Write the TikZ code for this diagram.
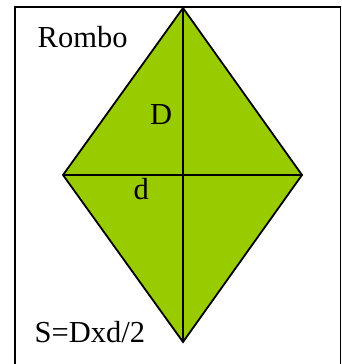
\documentclass[tikz,border=0pt]{standalone}
\usepackage{fontspec}
\setmainfont{Liberation Serif}
\definecolor{rombogreen}{RGB}{153,204,0}
\tikzset{lbl/.style={anchor=base west, inner sep=0pt, font=\fontsize{30.5}{36}\selectfont}}

\begin{document}
\begin{tikzpicture}[x=1pt, y=-1pt, line join=miter]
\useasboundingbox (0, 0) rectangle (342, 364);
\coordinate (top) at (183, 8);
\coordinate (left) at (63, 175);
\coordinate (right) at (302, 175);
\coordinate (bottom) at (183, 342);
\draw[line width=1.6pt] (15, 364) -- (15, 7) -- (340.5, 7) -- (340.5, 364);
\filldraw[fill=rombogreen, line width=1.8pt] (top) -- (right) -- (bottom) -- (left) -- cycle;
\draw[line width=1.8pt] (top) -- (bottom)
(left) -- (right);
\draw (37.5, 47) node[lbl] (rombo) {Rombo};
\draw (150, 124.3) node[lbl] (diagD) {D};
\draw (133.5, 199.3) node[lbl] (diagd) {d};
\draw (34.5, 342) node[lbl] (area) {S=Dxd/2};
\end{tikzpicture}
\end{document}
